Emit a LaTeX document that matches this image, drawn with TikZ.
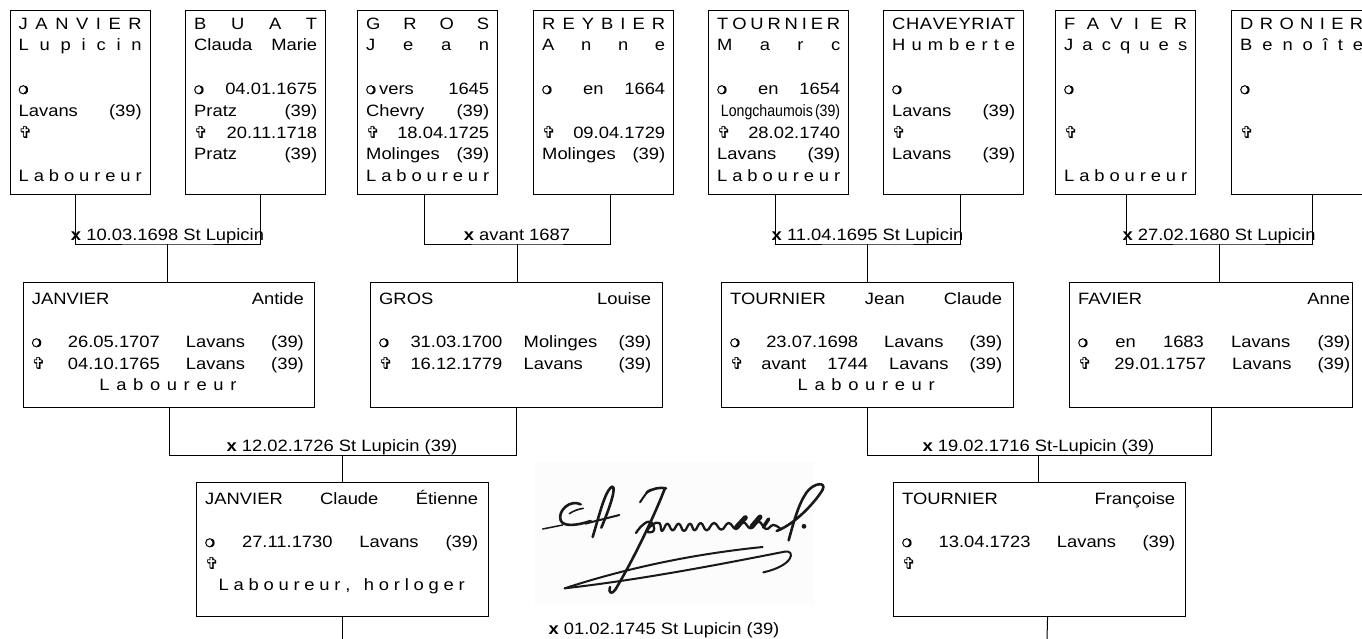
\documentclass[tikz,border=0pt]{standalone}
\usepackage{fontspec}
\setmainfont{Liberation Sans}[FakeStretch=1.12]
\newfontfamily\symfont{DejaVu Sans}
\usepackage{graphicx}
\newlength\bw
\newcommand\jrow[1]{\hbox to\bw{#1}}
\newcommand\brn{\makebox[10pt][l]{\tikz[baseline=0pt,x=1pt,y=1pt]{\draw[line width=1pt] (4.6,4.6) circle[radius=4.1]; \draw[line width=1.9pt] (4.6,4.6) ++(-70:3.9) arc[start angle=-70, end angle=60, radius=3.9];}}}
\newcommand\dcd{\makebox[10pt][l]{\symfont\fontsize{16.5}{14}\selectfont ✞}}
\newcommand\bx{\textbf{x}}
\newcommand\occ[2]{\jrow{\hfil\hbox to#1{#2}\hfil}}
\newcommand\wgap{\hskip 0pt plus 1.5fill\relax}
\tikzset{
  topbox/.style={draw, line width=1.1pt, inner sep=0pt, minimum width=140pt, minimum height=184.5pt, anchor=north west},
  midbox/.style={draw, line width=1.1pt, inner sep=0pt, minimum height=125pt, anchor=north west},
  lowbox/.style={draw, line width=1.1pt, inner sep=0pt, minimum height=134pt, anchor=north west},
  boxtext/.style={anchor=base west, inner sep=0pt, font=\fontsize{16.4}{21.8}\selectfont},
  link/.style={line width=1pt},
  mlabel/.style={anchor=base, inner sep=0pt, font=\fontsize{16.4}{20}\selectfont},
  sig/.style={line width=2.6pt, line cap=round, line join=round, black!90},
}
\begin{document}
\begin{tikzpicture}[x=1pt, y=-1pt]
\useasboundingbox (0,0) rectangle (1362,638);
\clip (0,0) rectangle (1362,638);

% ---------- top row ----------
\node[topbox] (p1) at (9.5,9.5) {};
\node[topbox] (p2) at (185,9.5) {};
\node[topbox] (p3) at (357,9.5) {};
\node[topbox] (p4) at (533,9.5) {};
\node[topbox] (p5) at (708,9.5) {};
\node[topbox] (p6) at (883,9.5) {};
\node[topbox] (p7) at (1055,9.5) {};
\node[topbox] (p8) at (1231,9.5) {};

\node[boxtext] (t1) at ([xshift=9pt,yshift=-19.5pt]p1.north west) {\vtop{\bw=123pt \baselineskip=21.8pt \lineskiplimit=-50pt
  \jrow{J\hfill A\hfill N\hfill V\hfill I\hfill E\hfill R}
  \jrow{L\hfill u\hfill p\hfill i\hfill c\hfill i\hfill n}
  \jrow{}
  \jrow{\brn\hfill}
  \jrow{Lavans\hfill(39)}
  \jrow{\dcd\hfill}
  \jrow{}
  \jrow{L\hfill a\hfill b\hfill o\hfill u\hfill r\hfill e\hfill u\hfill r}}};
\node[boxtext] (t2) at ([xshift=9pt,yshift=-19.5pt]p2.north west) {\vtop{\bw=123pt \baselineskip=21.8pt \lineskiplimit=-50pt
  \jrow{B\hfill U\hfill A\hfill T}
  \jrow{Clauda\hfill Marie}
  \jrow{}
  \jrow{\brn\hfill 04.01.1675}
  \jrow{Pratz\hfill(39)}
  \jrow{\dcd\hfill 20.11.1718}
  \jrow{Pratz\hfill(39)}}};
\node[boxtext] (t3) at ([xshift=9pt,yshift=-19.5pt]p3.north west) {\vtop{\bw=123pt \baselineskip=21.8pt \lineskiplimit=-50pt
  \jrow{G\hfill R\hfill O\hfill S}
  \jrow{J\hfill e\hfill a\hfill n}
  \jrow{}
  \jrow{\brn\hspace{3pt}vers\hfill 1645}
  \jrow{Chevry\hfill(39)}
  \jrow{\dcd\hfill 18.04.1725}
  \jrow{Molinges\hfill(39)}
  \jrow{L\hfill a\hfill b\hfill o\hfill u\hfill r\hfill e\hfill u\hfill r}}};
\node[boxtext] (t4) at ([xshift=9pt,yshift=-19.5pt]p4.north west) {\vtop{\bw=123pt \baselineskip=21.8pt \lineskiplimit=-50pt
  \jrow{R\hfill E\hfill Y\hfill B\hfill I\hfill E\hfill R}
  \jrow{A\hfill n\hfill n\hfill e}
  \jrow{}
  \jrow{\brn\wgap en\hfill 1664}
  \jrow{}
  \jrow{\dcd\hfill 09.04.1729}
  \jrow{Molinges\hfill(39)}}};
\node[boxtext] (t5) at ([xshift=9pt,yshift=-19.5pt]p5.north west) {\vtop{\bw=123pt \baselineskip=21.8pt \lineskiplimit=-50pt
  \jrow{T\hfill O\hfill U\hfill R\hfill N\hfill I\hfill E\hfill R}
  \jrow{M\hfill a\hfill r\hfill c}
  \jrow{}
  \jrow{\brn\wgap en\hfill 1654}
  \jrow{\hfill\scalebox{0.77}[1]{Longchaumois\,(39)}}
  \jrow{\dcd\hfill 28.02.1740}
  \jrow{Lavans\hfill(39)}
  \jrow{L\hfill a\hfill b\hfill o\hfill u\hfill r\hfill e\hfill u\hfill r}}};
\node[boxtext] (t6) at ([xshift=9pt,yshift=-19.5pt]p6.north west) {\vtop{\bw=123pt \baselineskip=21.8pt \lineskiplimit=-50pt
  \jrow{C\hfil H\hfil A\hfil V\hfil E\hfil Y\hfil R\hfil I\hfil A\hfil T}
  \jrow{H\hfill u\hfill m\hfill b\hfill e\hfill r\hfill t\hfill e}
  \jrow{}
  \jrow{\brn\hfill}
  \jrow{Lavans\hfill(39)}
  \jrow{\dcd\hfill}
  \jrow{Lavans\hfill(39)}}};
\node[boxtext] (t7) at ([xshift=9pt,yshift=-19.5pt]p7.north west) {\vtop{\bw=123pt \baselineskip=21.8pt \lineskiplimit=-50pt
  \jrow{F\hfill A\hfill V\hfill I\hfill E\hfill R}
  \jrow{J\hfill a\hfill c\hfill q\hfill u\hfill e\hfill s}
  \jrow{}
  \jrow{\brn\hfill}
  \jrow{}
  \jrow{\dcd\hfill}
  \jrow{}
  \jrow{L\hfill a\hfill b\hfill o\hfill u\hfill r\hfill e\hfill u\hfill r}}};
\node[boxtext] (t8) at ([xshift=9pt,yshift=-19.5pt]p8.north west) {\vtop{\bw=123pt \baselineskip=21.8pt \lineskiplimit=-50pt
  \jrow{D\hfill R\hfill O\hfill N\hfill I\hfill E\hfill R}
  \jrow{B\hfill e\hfill n\hfill o\hfill î\hfill t\hfill e}
  \jrow{}
  \jrow{\brn\hfill}
  \jrow{}
  \jrow{\dcd\hfill}}};

% ---------- second row ----------
\node[midbox, minimum width=291.5pt] (c1) at (22.7,282) {};
\node[midbox, minimum width=292pt] (c2) at (370,282) {};
\node[midbox, minimum width=292pt] (c3) at (721,282) {};
\node[midbox, minimum width=283pt] (c4) at (1069,282) {};

\node[boxtext] (u1) at ([xshift=9pt,yshift=-22pt]c1.north west) {\vtop{\bw=272pt \baselineskip=21.7pt \lineskiplimit=-50pt
  \jrow{JANVIER\hfill Antide}
  \jrow{}
  \jrow{\brn\hfill 26.05.1707\hfill Lavans\hfill(39)}
  \jrow{\dcd\hfill 04.10.1765\hfill Lavans\hfill(39)}
  \occ{137pt}{L\hfill a\hfill b\hfill o\hfill u\hfill r\hfill e\hfill u\hfill r}}};
\node[boxtext] (u2) at ([xshift=9pt,yshift=-22pt]c2.north west) {\vtop{\bw=272pt \baselineskip=21.7pt \lineskiplimit=-50pt
  \jrow{GROS\hfill Louise}
  \jrow{}
  \jrow{\brn\hfill 31.03.1700\hfill Molinges\hfill(39)}
  \jrow{\dcd\hfill 16.12.1779\hfill\rlap{Lavans}\phantom{Molinges}\hfill(39)}}};
\node[boxtext] (u3) at ([xshift=9pt,yshift=-22pt]c3.north west) {\vtop{\bw=272pt \baselineskip=21.7pt \lineskiplimit=-50pt
  \jrow{TOURNIER\hfill Jean\hfill Claude}
  \jrow{}
  \jrow{\brn\hfill 23.07.1698\hfill Lavans\hfill(39)}
  \jrow{\dcd\hfill avant\hfill 1744\hfill Lavans\hfill(39)}
  \occ{137pt}{L\hfill a\hfill b\hfill o\hfill u\hfill r\hfill e\hfill u\hfill r}}};
\node[boxtext] (u4) at ([xshift=9pt,yshift=-22pt]c4.north west) {\vtop{\bw=272pt \baselineskip=21.7pt \lineskiplimit=-50pt
  \jrow{FAVIER\hfill Anne}
  \jrow{}
  \jrow{\brn\hfill en\hfill 1683\hfill Lavans\hfill(39)}
  \jrow{\dcd\hfill 29.01.1757\hfill Lavans\hfill(39)}}};

% ---------- third row ----------
\node[lowbox, minimum width=292pt] (g1) at (196,482) {};
\node[lowbox, minimum width=292pt] (g2) at (893,482) {};

\node[boxtext] (v1) at ([xshift=9pt,yshift=-22pt]g1.north west) {\vtop{\bw=273pt \baselineskip=21.7pt \lineskiplimit=-50pt
  \jrow{JANVIER\hfill Claude\hfill Étienne}
  \jrow{}
  \jrow{\brn\hfill 27.11.1730\hfill Lavans\hfill(39)}
  \jrow{\dcd\hfill}
  \occ{246pt}{L\hfill a\hfill b\hfill o\hfill u\hfill r\hfill e\hfill u\hfill r\hfill ,\hfill\hspace{4pt}\hfill h\hfill o\hfill r\hfill l\hfill o\hfill g\hfill e\hfill r}}};
\node[boxtext] (v2) at ([xshift=9pt,yshift=-22pt]g2.north west) {\vtop{\bw=273pt \baselineskip=21.7pt \lineskiplimit=-50pt
  \jrow{TOURNIER\hfill Françoise}
  \jrow{}
  \jrow{\brn\hfill 13.04.1723\hfill Lavans\hfill(39)}
  \jrow{\dcd\hfill}}};

% ---------- connectors, row 1 -> row 2 ----------
\coordinate (m1) at (167.5,244);
\coordinate (m2) at (517,244);
\coordinate (m3) at (867.5,244);
\coordinate (m4) at (1219,244);
\draw[link] ([xshift=-4.5pt]p1.south) |- (m1) -| ([xshift=5pt]p2.south);
\draw[link] ([xshift=-3pt]p3.south) |- (m2) -| ([xshift=7pt]p4.south);
\draw[link] ([xshift=-3pt]p5.south) |- (m3) -| ([xshift=7pt]p6.south);
\draw[link] ([xshift=1pt]p7.south) |- (m4) -| ([xshift=11pt]p8.south);
\draw[link] (m1) -- (m1 |- c1.north);
\draw[link] (m2) -- (m2 |- c2.north);
\draw[link] (m3) -- (m3 |- c3.north);
\draw[link] (m4) -- (m4 |- c4.north);
\node[mlabel] (l1) at ([yshift=4pt]m1) {\bx\ 10.03.1698 St Lupicin};
\node[mlabel] (l2) at ([yshift=4pt]m2) {\bx\ avant 1687};
\node[mlabel] (l3) at ([yshift=4pt]m3) {\bx\ 11.04.1695 St Lupicin};
\node[mlabel] (l4) at ([yshift=4pt]m4) {\bx\ 27.02.1680 St Lupicin};

% ---------- connectors, row 2 -> row 3 ----------
\coordinate (n1) at (342,455);
\coordinate (n2) at (1038.5,455);
\draw[link] (c1.south) |- (n1) -| (c2.south);
\draw[link] (c3.south) |- (n2) -| (c4.south);
\draw[link] (n1) -- (n1 |- g1.north);
\draw[link] (n2) -- (n2 |- g2.north);
\node[mlabel] (l5) at ([yshift=4pt]n1) {\bx\ 12.02.1726 St Lupicin (39)};
\node[mlabel] (l6) at ([yshift=4pt]n2) {\bx\ 19.02.1716 St-Lupicin (39)};

% ---------- bottom ----------
\coordinate (e1) at (342,640);
\coordinate (e2) at (1047,640);
\draw[link] (g1.south) -- (g1.south |- e1);
\draw[link] ([xshift=8pt]g2.south) -- (e2);
\node[mlabel] (l7) at (664,634) {\bx\ 01.02.1745 St Lupicin (39)};

% ---------- signature ----------
\begin{scope}[shift={(530pt,-455pt)}, x=0.3333pt, y=-0.3333pt]
  \fill[black!1] (15,20) rectangle (855,450);
  \draw[sig, line width=1.5pt] (38,222) -- (98,210);
  \draw[sig] (152,148) .. controls (120,132) and (82,168) .. (92,196) .. controls (100,216) and (140,212) .. (182,198);
  \draw[sig, line width=1.6pt] (118,176) .. controls (130,168) and (145,162) .. (160,160);
  \draw[sig] (188,246) .. controls (208,180) and (224,112) .. (244,96) .. controls (258,88) and (252,128) .. (214,218);
  \draw[sig, line width=2pt] (166,206) -- (268,180);
  \draw[sig, line width=2pt] (330,142) .. controls (345,120) and (352,108) .. (362,104);
  \draw[sig] (350,112) .. controls (370,100) and (390,96) .. (408,100);
  \draw[sig] (404,102) .. controls (378,170) and (318,300) .. (256,404) .. controls (246,420) and (234,414) .. (240,396);
  \draw[sig, line width=2.3pt] plot[smooth, tension=0.8] coordinates {(318,234) (338,210) (362,200) (372,226) (352,230) (366,210) (388,204) (396,228) (412,206) (428,226) (446,206) (462,228) (480,206) (494,226) (512,204) (530,226) (552,204) (574,224) (596,204) (618,222) (640,202) (662,220) (686,200) (708,222) (730,210) (752,222)};
  \draw[sig, line width=5pt] (620,216) -- (646,188);
  \draw[sig, line width=5pt] (666,214) -- (690,186);
  \draw[sig, line width=3.5pt] (700,216) -- (716,192);
  \draw[sig] (740,228) .. controls (800,205) and (860,135) .. (878,104) .. controls (890,80) and (852,82) .. (830,112) .. controls (806,146) and (792,198) .. (776,256);
  \fill[black!90] (822,214) circle[radius=2.4pt];
  \draw[sig, line width=2pt] (104,400) .. controls (300,336) and (500,296) .. (698,276);
  \draw[sig, line width=2pt] (104,400) .. controls (350,372) and (600,322) .. (764,290) .. controls (798,284) and (792,332) .. (700,352);
\end{scope}
\end{tikzpicture}
\end{document}
